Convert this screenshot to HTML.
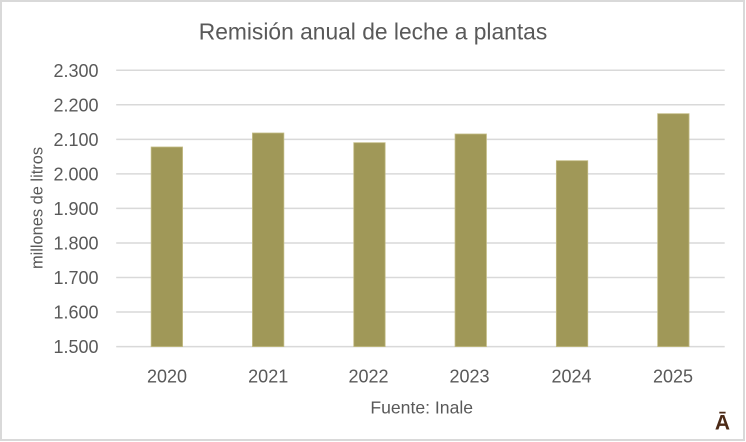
<!DOCTYPE html>
<html>
<head>
<meta charset="utf-8">
<style>
  html, body { margin:0; padding:0; background:#ffffff; }
  body { width:746px; height:442px; overflow:hidden; position:relative; }
  .frame { position:absolute; left:0; top:0; width:745px; height:441px; box-sizing:border-box; border:2px solid #d9d9d9; background:#fff; }
  svg { position:absolute; left:0; top:0; }
  text { font-family:"Liberation Sans", Arial, sans-serif; fill:#595959; }
</style>
</head>
<body>
<div class="frame"></div>
<svg width="746" height="442" viewBox="0 0 746 442" xmlns="http://www.w3.org/2000/svg">
  <text x="373" y="39.5" font-size="22.8" text-anchor="middle">Remisión anual de leche a plantas</text>

  <g stroke="#d9d9d9" stroke-width="1.5">
    <line x1="116.2" x2="724.7" y1="70.3" y2="70.3"/>
    <line x1="116.2" x2="724.7" y1="104.8" y2="104.8"/>
    <line x1="116.2" x2="724.7" y1="139.4" y2="139.4"/>
    <line x1="116.2" x2="724.7" y1="173.9" y2="173.9"/>
    <line x1="116.2" x2="724.7" y1="208.4" y2="208.4"/>
    <line x1="116.2" x2="724.7" y1="243.0" y2="243.0"/>
    <line x1="116.2" x2="724.7" y1="277.5" y2="277.5"/>
    <line x1="116.2" x2="724.7" y1="312.0" y2="312.0"/>
    <line x1="116.2" x2="724.7" y1="346.6" y2="346.6"/>
  </g>

  <g font-size="18" text-anchor="end">
    <text x="98.5" y="76.8">2.300</text>
    <text x="98.5" y="111.3">2.200</text>
    <text x="98.5" y="145.9">2.100</text>
    <text x="98.5" y="180.4">2.000</text>
    <text x="98.5" y="214.9">1.900</text>
    <text x="98.5" y="249.5">1.800</text>
    <text x="98.5" y="284.0">1.700</text>
    <text x="98.5" y="318.5">1.600</text>
    <text x="98.5" y="353.1">1.500</text>
  </g>

  <text transform="translate(42.5,208) rotate(-90)" font-size="16.4" text-anchor="middle">millones de litros</text>

  <g fill="#a09858" stroke="#c2bb84" stroke-width="0.8">
    <rect x="151.15" y="147.0" width="31.4" height="199.6"/>
    <rect x="252.45" y="133.0" width="31.4" height="213.6"/>
    <rect x="353.75" y="142.7" width="31.4" height="203.9"/>
    <rect x="455.05" y="134.0" width="31.4" height="212.6"/>
    <rect x="556.35" y="160.7" width="31.4" height="185.9"/>
    <rect x="657.65" y="113.7" width="31.4" height="232.9"/>
  </g>

  <g font-size="18" text-anchor="middle">
    <text x="167" y="382.3">2020</text>
    <text x="268.2" y="382.3">2021</text>
    <text x="368.5" y="382.3">2022</text>
    <text x="469.5" y="382.3">2023</text>
    <text x="571.5" y="382.3">2024</text>
    <text x="673" y="382.3">2025</text>
  </g>

  <text x="421.7" y="413.3" font-size="17.6" text-anchor="middle">Fuente: Inale</text>

  <text x="722.5" y="429.5" font-size="21" font-weight="bold" text-anchor="middle" style="fill:#4b2a17">Ā</text>
</svg>
</body>
</html>
